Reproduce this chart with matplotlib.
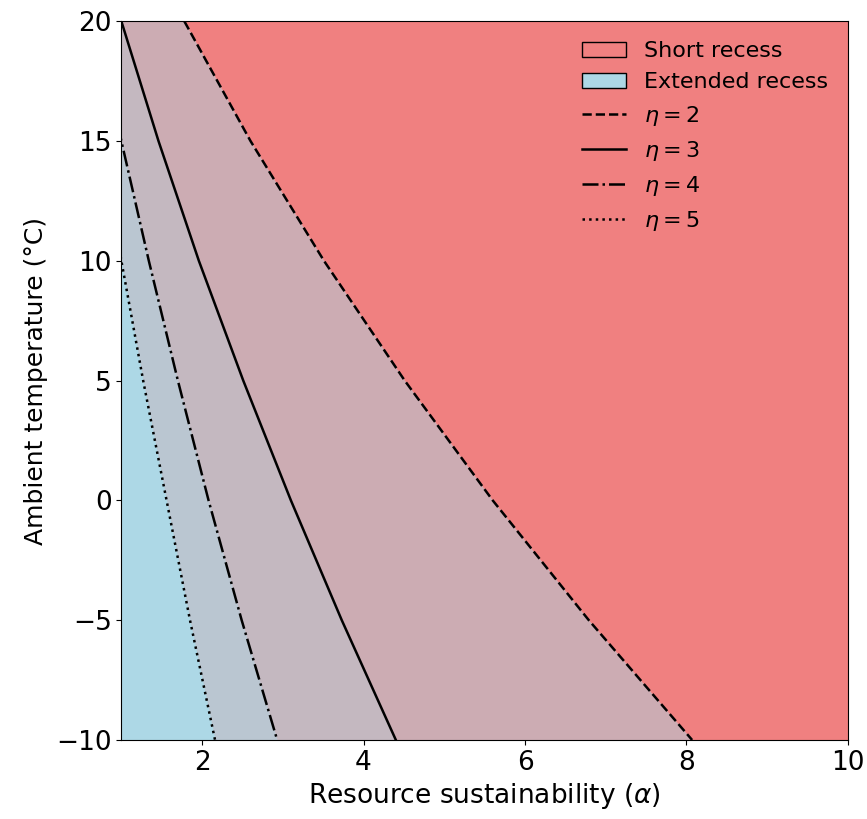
import matplotlib.pyplot as plt
from matplotlib.patches import Patch
import numpy as np

# ambient temperature (deg C) and boundary alpha for each eta
temp = np.array([20, 15, 10, 5, 0, -5, -10])
alpha_eta2 = np.array([1.78, 2.60, 3.51, 4.51, 5.60, 6.79, 8.07])
alpha_eta3 = np.array([1.00, 1.46, 1.96, 2.51, 3.10, 3.73, 4.40])
alpha_eta4 = np.array([0.68, 1.00, 1.34, 1.70, 2.08, 2.49, 2.93])
alpha_eta5 = np.array([0.47, 0.74, 1.00, 1.27, 1.56, 1.85, 2.16])

fig = plt.figure(figsize=(8.67, 8.19), dpi=100)
ax = fig.add_axes([0.140, 0.0965, 0.838, 0.8775])
ax.set_facecolor('lightblue')

# stacked translucent coral layers, fully coral past eta=2
for a in [alpha_eta5, alpha_eta4, alpha_eta3]:
    ax.fill_betweenx(temp, a, 10, color='lightcoral', alpha=0.2, lw=0)
ax.fill_betweenx(temp, alpha_eta2, 10, color='lightcoral', lw=0)

ax.plot(alpha_eta2, temp, 'k--', lw=1.8, label=r'$\eta = 2$')
ax.plot(alpha_eta3, temp, 'k-', lw=1.8, label=r'$\eta = 3$')
ax.plot(alpha_eta4, temp, 'k-.', lw=1.8, label=r'$\eta = 4$')
ax.plot(alpha_eta5, temp, 'k:', lw=1.8, label=r'$\eta = 5$')

ax.set_xlim(1, 10)
ax.set_ylim(-10, 20)
ax.set_xticks([2, 4, 6, 8, 10])
ax.set_yticks([-10, -5, 0, 5, 10, 15, 20])
ax.tick_params(labelsize=19)
ax.set_xlabel(r'Resource sustainability ($\alpha$)', fontsize=19)
ax.set_ylabel('Ambient temperature (°C)', fontsize=18, labelpad=6)

handles = [Patch(facecolor='lightcoral', edgecolor='black', label='Short recess'),
           Patch(facecolor='lightblue', edgecolor='black', label='Extended recess')]
handles += ax.get_lines()
ax.legend(handles=handles, loc='upper right', frameon=False, fontsize=16)

fig.savefig('out.png', dpi=100)
